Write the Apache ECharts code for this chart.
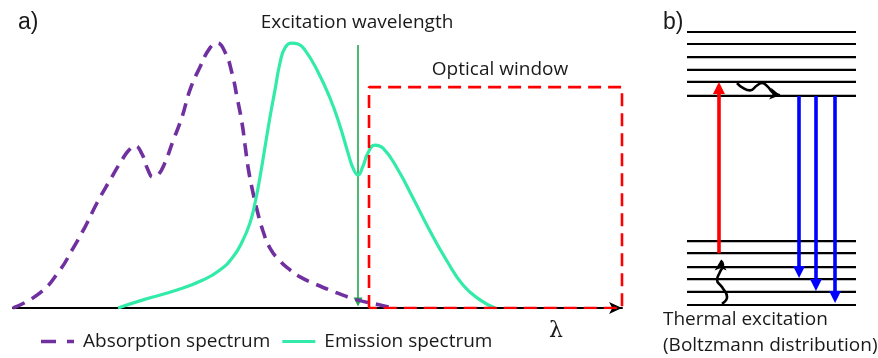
<!DOCTYPE html>
<html><head><meta charset="utf-8">
<script src="https://cdn.jsdelivr.net/npm/echarts@6/dist/echarts.min.js"></script>
<style>html,body{margin:0;padding:0;background:#fff}#c{width:878px;height:358px}</style>
</head><body><div id="c"></div>
<script>
// ---- Panel a: relative wavelength (0-100) vs normalised intensity ----
const absX = [0, 4.43, 7.72, 9.69, 11.82, 13.79, 15.93, 17.9, 19.05, 20.03, 21.18, 22.17, 22.99, 23.81, 24.79, 26.27, 27.75, 29.06, 30.71, 32.35, 33.5, 34.81, 35.96, 36.78, 37.6, 38.1, 38.59, 39.24, 40.07, 41.05, 42.2, 43.84, 45.48, 47.13, 49.26, 53.2, 56.49, 60.26, 62.23];
const absY = [0, 0.054, 0.136, 0.207, 0.289, 0.375, 0.457, 0.529, 0.564, 0.579, 0.55, 0.493, 0.468, 0.475, 0.511, 0.596, 0.682, 0.779, 0.861, 0.929, 0.946, 0.914, 0.839, 0.754, 0.661, 0.582, 0.504, 0.429, 0.35, 0.275, 0.214, 0.168, 0.136, 0.111, 0.089, 0.054, 0.029, 0.011, 0];
const emiX = [17.24, 21.35, 26.93, 31.2, 33.99, 36.12, 37.77, 38.92, 39.74, 40.56, 41.38, 42.2, 43.02, 43.84, 44.66, 45.81, 46.8, 47.95, 49.92, 52.05, 53.69, 55.01, 55.83, 56.65, 57.47, 58.29, 59.44, 60.76, 63.05, 65.68, 68.47, 71.26, 73.89, 76.68, 79.15];
const emiY = [0, 0.029, 0.064, 0.1, 0.136, 0.182, 0.243, 0.304, 0.375, 0.468, 0.575, 0.682, 0.779, 0.875, 0.929, 0.946, 0.943, 0.921, 0.85, 0.75, 0.65, 0.554, 0.5, 0.475, 0.507, 0.554, 0.582, 0.571, 0.5, 0.393, 0.275, 0.168, 0.082, 0.029, 0];
const excitationX = 56.65;
const excitationSpan = [0.939, 0.021];
const windowX = [58.46, 100];
const windowTop = 0.789;
const seriesNames = ['Absorption spectrum', 'Emission spectrum'];

// ---- Panel b: energy levels (relative energy 0-100) ----
const upperLevels = [100, 95.6, 90.8, 86.1, 81.7, 76.6];
const lowerLevels = [23.4, 19.0, 13.9, 9.5, 4.8, 0];
const pumpX = 18.9;
const pumpSpan = [19.0, 79.5];
const emitX = [66.3, 76.3, 87.6];
const emitFrom = 76.6;
const emitTo = [12.1, 7.3, 2.9];
const relaxX = [29.6, 33.1, 37.3, 41.4, 44.4, 47.9, 50.9, 55.0];
const relaxY = [81.3, 79.5, 78.6, 80.4, 81.3, 79.9, 77.8, 76.8];
const thermalX = [20.7, 23.7, 20.7, 17.8, 19.5, 21.3, 19.9];
const thermalY = [0.4, 2.9, 6.6, 9.2, 12.1, 14.7, 16.3];

const zip = (xs, ys) => xs.map((x, i) => [x, ys[i]]);
const withHead = (pts, rot) => pts.map((p, i) => i === pts.length - 1
  ? {value: p, symbol: 'arrow', symbolSize: [9, 10], symbolRotate: rot}
  : {value: p, symbol: 'none'});

const TXT = '#1a1a1a';
const FONT = '"Open Sans"';

const series = [
  {name: seriesNames[0], type: 'line', xAxisIndex: 0, yAxisIndex: 0, data: zip(absX, absY), smooth: 0.5,
   symbol: 'none', lineStyle: {color: '#7030A0', width: 3.6, type: [13, 8]}, itemStyle: {color: '#7030A0'}},
  {name: seriesNames[1], type: 'line', xAxisIndex: 0, yAxisIndex: 0, data: zip(emiX, emiY), smooth: 0.5,
   symbol: 'none', lineStyle: {color: '#33EBA8', width: 3.2}, itemStyle: {color: '#33EBA8'}},
  {type: 'lines', coordinateSystem: 'cartesian2d', xAxisIndex: 0, yAxisIndex: 0,
   data: [{coords: [[excitationX, excitationSpan[0]], [excitationX, excitationSpan[1]]]}],
   symbol: ['none', 'triangle'], symbolSize: 9, lineStyle: {color: '#1EA84C', width: 1.6, opacity: 1}},
  {type: 'line', xAxisIndex: 0, yAxisIndex: 0, symbol: 'none', z: 3,
   data: [[windowX[0], 0], [windowX[0], windowTop], [windowX[1], windowTop], [windowX[1], 0], [windowX[0], 0]],
   lineStyle: {color: '#FF0000', width: 2.6, type: [13, 7]}}
];
upperLevels.concat(lowerLevels).forEach(v => {
  series.push({type: 'line', xAxisIndex: 1, yAxisIndex: 1, symbol: 'none', data: [[0, v], [100, v]],
    lineStyle: {color: '#000', width: 2.2}});
});
series.push({type: 'lines', coordinateSystem: 'cartesian2d', xAxisIndex: 1, yAxisIndex: 1, z: 4,
  data: [{coords: [[pumpX, pumpSpan[0]], [pumpX, pumpSpan[1]]]}],
  symbol: ['none', 'triangle'], symbolSize: 12, lineStyle: {color: '#FF0000', width: 3.6, opacity: 1}});
series.push({type: 'lines', coordinateSystem: 'cartesian2d', xAxisIndex: 1, yAxisIndex: 1, z: 4,
  data: emitX.map((x, i) => ({coords: [[x, emitFrom], [x, emitTo[i]]]})),
  symbol: ['none', 'triangle'], symbolSize: 12, lineStyle: {color: '#0000FF', width: 3.6, opacity: 1}});
series.push({type: 'line', xAxisIndex: 1, yAxisIndex: 1, smooth: 0.5, showSymbol: true, z: 4,
  data: withHead(zip(relaxX, relaxY), -100), itemStyle: {color: '#000'}, lineStyle: {color: '#000', width: 2.6}});
series.push({type: 'line', xAxisIndex: 1, yAxisIndex: 1, smooth: 0.5, showSymbol: true, z: 4,
  data: withHead(zip(thermalX, thermalY), 0), itemStyle: {color: '#000'}, lineStyle: {color: '#000', width: 2.6}});

const txt = (x, y, text, size, align, family) => ({type: 'text', x, y, silent: true,
  style: {text, fill: TXT, font: size + 'px ' + (family || FONT), align: align || 'left', verticalAlign: 'middle'}});

const chart = echarts.init(document.getElementById('c'), null, {renderer: 'canvas'});
chart.setOption({
  animation: false,
  backgroundColor: '#fff',
  grid: [
    {left: 13, top: 28, width: 609, height: 280},
    {left: 687, top: 32, width: 169, height: 273}
  ],
  xAxis: [
    {type: 'value', gridIndex: 0, min: 0, max: 100,
     axisLine: {show: true, onZero: false, symbol: ['none', 'arrow'], symbolSize: [9, 13], lineStyle: {color: '#000', width: 2}},
     axisTick: {show: false}, axisLabel: {show: false}, splitLine: {show: false}},
    {type: 'value', gridIndex: 1, min: 0, max: 100, show: false}
  ],
  yAxis: [
    {type: 'value', gridIndex: 0, min: 0, max: 1, show: false},
    {type: 'value', gridIndex: 1, min: 0, max: 100, show: false}
  ],
  legend: {
    data: [
      {name: seriesNames[0], icon: 'path://M0,0H15V3.6H0Z M26,0H33V3.6H26Z'},
      {name: seriesNames[1], icon: 'path://M0,0H33V3.2H0Z'}
    ],
    left: 36, top: 327, itemWidth: 33, itemHeight: 14, itemGap: 12,
    textStyle: {fontFamily: FONT, fontSize: 19, color: TXT, padding: [0, 0, 0, 4]}
  },
  graphic: [
    txt(18, 23, 'a)', 23, 'left', '"Liberation Sans"'),
    txt(357, 23, 'Excitation wavelength', 19, 'center'),
    txt(500, 70, 'Optical window', 19, 'center'),
    txt(556, 331, 'λ', 22, 'center', '"DejaVu Serif"'),
    txt(663, 23, 'b)', 23, 'left', '"Liberation Sans"'),
    txt(663, 320, 'Thermal excitation', 19, 'left'),
    txt(663, 346, '(Boltzmann distribution)', 19, 'left')
  ],
  series
});
</script></body></html>
